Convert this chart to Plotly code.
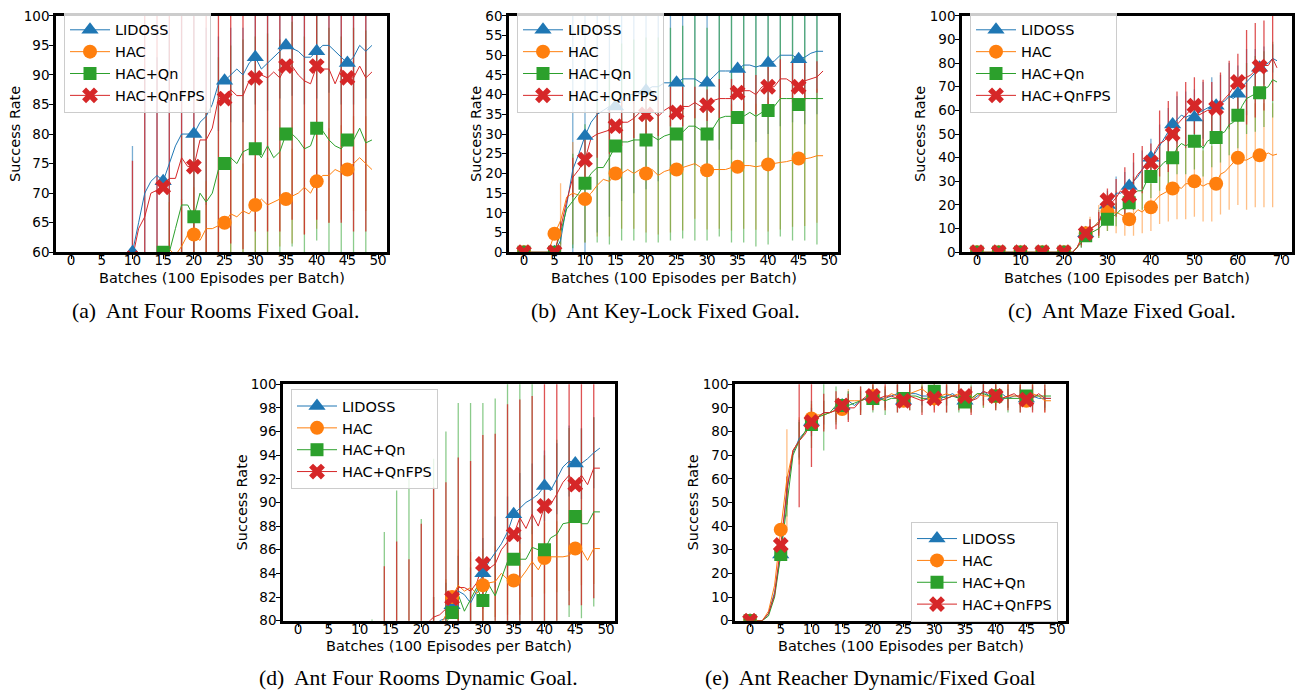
import plotly.graph_objects as go

# ---------------- data ----------------
SERIES = ["LIDOSS", "HAC", "HAC+Qn", "HAC+QnFPS"]
COLORS = ["#1f77b4", "#ff7f0e", "#2ca02c", "#d62728"]
ERR_COLORS = ["rgba(31,119,180,0.6)", "rgba(255,127,14,0.5)",
              "rgba(44,160,44,0.55)", "rgba(214,39,40,0.8)"]
SYMBOLS = ["triangle-up", "circle", "square", "x"]
MSIZES = [15, 14, 13, 14]

BATCHES_50 = list(range(50))
BATCHES_70 = list(range(70))

X_TICKS_50 = [0, 5, 10, 15, 20, 25, 30, 35, 40, 45, 50]
X_TICKS_70 = [0, 10, 20, 30, 40, 50, 60, 70]
Y_TICKS_A = [60, 65, 70, 75, 80, 85, 90, 95, 100]
Y_TICKS_B = [0, 5, 10, 15, 20, 25, 30, 35, 40, 45, 50, 55, 60]
Y_TICKS_C = [0, 10, 20, 30, 40, 50, 60, 70, 80, 90, 100]
Y_TICKS_D = [80, 82, 84, 86, 88, 90, 92, 94, 96, 98, 100]
Y_TICKS_E = [0, 10, 20, 30, 40, 50, 60, 70, 80, 90, 100]

# (a) Ant Four Rooms Fixed Goal
A_LIDOSS = [0, 0, 0, 0, 0, 0, 5, 15, 30, 45,
            60, 65, 70, 72, 73, 72, 75, 78, 80, 80,
            80, 82, 83, 85, 88.5, 89, 90, 91, 90, 92,
            93, 91, 92, 93, 94, 95, 94.5, 94, 93, 93,
            94, 95, 95, 94, 93, 92, 93, 95, 94, 95]
A_HAC = [0, 0, 0, 0, 0, 0, 2, 8, 15, 22,
         30, 36, 42, 48, 52, 56, 60.5, 59.5, 61, 63,
         63, 62, 64, 64, 64.5, 65, 66.5, 66, 67, 66.5,
         68, 69, 68, 68.5, 69, 69, 69.5, 70, 71, 70,
         72, 73, 73, 74, 73.5, 74, 75, 76, 75, 74]
A_QN = [0, 0, 0, 0, 0, 0, 3, 10, 18, 27,
        35, 42, 48, 53, 57, 60, 60, 64, 68, 68,
        66, 70, 68.5, 70, 74, 75, 76, 75, 77, 77.5,
        77.5, 76, 78, 76, 77, 80, 80, 79, 77.5, 78,
        81, 80.5, 79, 78, 77.5, 79, 79, 81, 78.5, 79]
A_QNFPS = [0, 0, 0, 0, 0, 0, 5, 15, 30, 45,
           59, 64, 66, 70, 70.5, 71, 72.5, 72.5, 76, 74.5,
           74.5, 79, 79, 81, 86, 86, 87.5, 86.5, 86.5, 89,
           89.5, 90, 89.5, 90.5, 89.5, 91.5, 91.5, 90, 89, 88.5,
           91.5, 91, 91, 88.5, 91, 89.5, 89.5, 91.5, 89.5, 90.5]
# error half-widths at every second batch (0, 2, 4, ..., 48)
A_ERR_LIDOSS = [0, 0, 0, 0, 0, 18, 20, 20, 22, 22, 20, 15, 8, 8, 8, 8, 8, 8, 8, 8, 8, 8, 8, 8, 8]
A_ERR_HAC = [0, 0, 0, 0, 0, 0, 0, 0, 8, 8, 8, 8, 8, 8, 8, 8, 8, 8, 8, 8, 8, 8, 8, 8, 8]
A_ERR_QN = [0, 0, 0, 0, 0, 0, 0, 0, 10, 12, 15, 16, 19, 19, 19, 19, 19, 19, 19, 19, 19, 19, 19, 19, 19]
A_ERR_QNFPS = [0, 0, 0, 0, 0, 16.5, 40, 35, 32, 30, 28, 27, 26, 26, 26, 26, 26, 26, 26, 26, 26, 26, 26, 26, 26]

# (b) Ant Key-Lock Fixed Goal
B_LIDOSS = [0, 0, 0, 0, 0, 0, 3, 12, 21, 25,
            29.5, 33, 35, 36, 37, 37, 39, 40, 40, 41,
            41, 42, 42, 43, 43, 43, 44, 44, 44, 43,
            43, 44.5, 46, 46, 46, 46.5, 47.5, 47.5, 47, 47.5,
            48, 48.5, 50, 50, 50, 49, 49.5, 50.5, 51, 51]
B_HAC = [0, 0, 0, 0, 0, 4.7, 8, 14, 15, 14.5,
         13.5, 15, 17, 18.5, 18, 20, 20, 21, 20, 21,
         20, 21, 19.5, 20.5, 21, 21, 21.5, 22, 22.5, 21.5,
         20.8, 21, 21, 21, 21.5, 21.7, 22, 22, 21.7, 22,
         22.3, 22.5, 22.8, 23, 23.5, 23.8, 23.7, 24, 24.5, 24.5]
B_QN = [0, 0, 0, 0, 0, 0, 5, 11, 13, 15,
        17.5, 20, 21.5, 21.5, 24, 27, 28, 28, 28.5, 28.5,
        28.5, 29.5, 28.5, 29.5, 30, 30, 30.5, 32, 32, 31,
        30, 31.5, 34, 34.5, 34.5, 34.2, 34.5, 35.5, 34.5, 35.5,
        36, 37, 39, 39, 39, 37.5, 39, 39, 39, 39]
B_QNFPS = [0, 0, 0, 0, 0, 0, 6, 13, 19, 21,
           23.5, 29, 30, 30.5, 31, 32, 33, 33, 34, 35.5,
           35, 36, 34.5, 36, 37, 35.5, 37, 37, 38, 37,
           37.3, 38.5, 39, 39, 39, 40.5, 41, 41, 40, 42,
           42, 42, 44, 44, 43, 42, 43.5, 44, 44.5, 46]
B_ERR_LIDOSS = [0, 0, 0, 3, 40, 31, 30, 28, 26, 25, 25, 24, 23, 23, 22, 22, 20, 20, 19, 19, 18, 18, 17, 17, 16]
B_ERR_HAC = [0, 0, 0, 9.5, 13, 11, 13, 14, 14, 14, 15, 15, 16, 16, 14, 15, 15, 16, 16, 16, 17, 17, 17, 17, 17]
B_ERR_QN = [0, 0, 0, 3, 12, 15, 19, 22, 25, 25.5, 26, 26, 27, 27, 29, 27, 30, 32, 32, 33, 34, 35, 36, 36, 37]
B_ERR_QNFPS = [0, 0, 0, 2, 5, 6, 6, 6, 6, 5, 5, 5, 5, 5, 4, 4, 5, 5, 5, 5, 5, 5, 5, 5, 4]

# (c) Ant Maze Fixed Goal
C_LIDOSS = [0, 0, 0, 0, 0, 0, 0, 0, 0, 0,
            0, 0, 0, 0, 0, 0, 0, 0, 0, 0,
            0, 0, 0, 2, 5, 8, 10, 11, 13, 17,
            20, 22, 25, 25, 26, 28, 30, 32, 35, 38,
            40, 42, 45, 48, 51, 54, 56, 58, 57, 58,
            57, 59, 60, 61, 62, 62, 63, 64, 66, 65,
            67, 70, 72, 74, 76, 78, 79, 80, 82, 81]
C_HAC = [0, 0, 0, 0, 0, 0, 0, 0, 0, 0,
         0, 0, 0, 0, 0, 0, 0, 0, 0, 0,
         0, 0, 0, 2, 5, 8, 10, 11, 13, 15,
         17, 16, 17, 16, 15, 14, 16, 18, 17, 19,
         19, 22, 24, 25, 26, 27, 28, 27, 29, 29,
         30, 29, 28, 29, 29, 29, 33, 34, 36, 38,
         40, 39, 39, 40, 41, 41, 41, 42, 41, 41.5]
C_QN = [0, 0, 0, 0, 0, 0, 0, 0, 0, 0,
        0, 0, 0, 0, 0, 0, 0, 0, 0, 0,
        0, 0, 0, 2, 4, 7, 8, 9, 10, 12,
        14, 15, 16, 18, 19, 21, 25, 26, 26, 30,
        32, 34, 36, 38, 39, 40, 44, 46, 45, 46,
        47, 46, 44, 47, 48, 48.5, 50, 51, 54, 55,
        58, 62, 65, 66, 67, 67.5, 69, 70, 73, 72]
C_QNFPS = [0, 0, 0, 0, 0, 0, 0, 0, 0, 0,
           0, 0, 0, 0, 0, 0, 0, 0, 0, 0,
           0, 0, 0, 2, 6, 8, 10, 11, 12, 18,
           22, 21, 23, 26, 24, 24, 30, 33, 35, 37,
           38, 43, 46, 47, 49, 50, 54, 56, 58, 60,
           62, 58, 59, 60, 60, 61, 63, 65, 67, 70,
           72, 73, 74, 75, 77, 78.5, 79, 79, 82, 78]
C_ERR_LIDOSS = [0, 0, 0, 0, 0, 0, 0, 0, 0, 0, 0, 0,
                3, 4, 5, 6, 7, 8, 8, 8, 8, 9, 10, 10, 11, 12, 12, 12, 12, 14, 12, 14, 10, 8, 6]
C_ERR_HAC = [0, 0, 0, 0, 0, 0, 0, 0, 0, 0, 0, 0,
             3, 5, 7, 8, 9, 8, 9, 9, 10, 12, 13, 14, 15, 15, 15, 16, 17, 18, 20, 21, 22, 22, 22]
C_ERR_QN = [0, 0, 0, 0, 0, 0, 0, 0, 0, 0, 0, 0,
            2, 3, 4, 5, 5, 6, 7, 8, 9, 10, 10, 11, 12, 12, 12, 12, 12, 13, 14, 15, 16, 16, 16]
C_ERR_QNFPS = [0, 0, 0, 0, 0, 0, 0, 0, 0, 0, 0, 0,
               3, 4, 5, 5, 8, 12, 12, 10, 8, 14, 15, 14, 14, 12, 14, 12, 13, 14, 12, 20, 20, 19, 18]

# (d) Ant Four Rooms Dynamic Goal
D_LIDOSS = [0, 0, 0, 0, 0, 1, 3, 8, 15, 24,
            33, 42, 50, 57, 62, 66, 70, 72, 74, 76,
            77, 78, 79, 80, 80.2, 81.3, 82.5, 82.2, 81.5, 82.5,
            84, 85, 85.8, 86.5, 87.5, 89, 89.5, 90, 90.3, 90.7,
            91.4, 91, 92, 93, 93.5, 93.3, 93.3, 93.7, 94.2, 94.6]
D_HAC = [0, 0, 0, 0, 0, 1, 3, 8, 15, 24,
         33, 42, 50, 57, 62, 66, 70, 72, 74, 76,
         77, 78, 79, 79.5, 80.5, 82, 83, 82.5, 82.8, 82.3,
         83, 83.2, 83.3, 84, 83.5, 83.4, 83.5, 84.2, 85, 84.3,
         85.3, 85.4, 85.4, 85.4, 85.5, 86.1, 86, 85.1, 86.1, 86.1]
D_QN = [0, 0, 0, 0, 0, 1, 3, 8, 15, 24,
        33, 42, 50, 57, 62, 66, 70, 72, 74, 76,
        77, 78, 78, 79, 79.8, 80.7, 82.2, 80.8, 81.8, 82.8,
        81.7, 83, 82.1, 83.5, 85, 85.2, 85.2, 85.2, 86.2, 86,
        86, 87, 87.3, 88.2, 88.3, 88.8, 88.2, 88.2, 89.2, 89.2]
D_QNFPS = [0, 0, 0, 0, 0, 1, 3, 8, 15, 24,
           33, 42, 50, 57, 62, 66, 70, 72, 74, 76,
           77, 79.8, 80.3, 80.5, 81, 81.9, 82.8, 82.8, 82.5, 83.2,
           84.8, 84.4, 84.8, 86, 86.7, 87.3, 88.7, 87.8, 89, 88,
           89.7, 89.8, 90.7, 91.7, 92.3, 91.5, 92.3, 91.5, 92.9, 92.9]
D_ERR_LIDOSS = [0, 0, 0, 0, 0, 0, 0, 0, 0, 0, 0, 3, 3, 3, 3, 3, 3, 3, 3, 3, 3, 3, 3, 3, 3]
D_ERR_HAC = [0, 0, 0, 0, 0, 0, 0, 0, 0, 0, 0, 3, 3, 3, 3, 3, 3, 3, 3, 3, 3, 3, 3, 3, 3]
D_ERR_QN = [0, 0, 0, 0, 0, 0, 30.1, 25.5, 21, 18.2, 11.6, 15.7, 16.2, 16.2, 16.6,
            16.7, 16.7, 16, 16, 16, 8, 8, 8, 8, 8]
D_ERR_QNFPS = [0, 0, 0, 0, 0, 0, 0, 22.6, 16.7, 11.2, 11.2, 11, 10.7, 11, 11,
               10.9, 11, 11.6, 10, 10, 11, 11, 11, 11, 11]

# (e) Ant Reacher Dynamic/Fixed Goal
E_LIDOSS = [0, 0, 0, 3, 12, 28, 55, 71, 77, 80,
            84, 86, 88, 88, 89, 91, 93, 91, 93, 94,
            95, 94, 94, 95, 96, 93, 96, 96, 95, 95,
            95, 94, 95, 96, 94, 93, 93, 95, 97, 95,
            95, 96, 94, 95, 95, 94, 95, 94, 94, 94]
E_HAC = [0, 0, 0, 4, 15, 38.5, 60, 72, 76, 80,
         85.5, 87, 87, 88, 89, 89.5, 93, 93, 93, 94,
         95, 93, 94, 96, 95, 93, 96, 97, 98, 96,
         94, 95, 96, 95, 96, 94, 93, 96, 95, 95,
         95, 94, 95, 95, 95, 93, 96, 95, 93, 93]
E_QN = [0, 0, 0, 2, 10, 28, 50, 70, 76, 80,
        83, 86, 87, 88, 91, 91, 91, 92, 93, 94,
        94, 94, 93, 94, 94, 94, 95, 95, 94, 94,
        97, 95, 94, 95, 94, 92.5, 94, 96, 96, 95,
        95, 94, 94, 94, 94, 95, 95, 95, 95, 95]
E_QNFPS = [0, 0, 0, 3, 11, 32, 55, 72, 76, 79,
           84, 86, 88, 88, 89, 91, 90, 90, 93, 95,
           95, 94, 95, 95, 94, 93, 95, 94, 93, 94,
           94, 93, 94, 95, 95, 95, 93, 94, 97, 96,
           95, 94, 95, 96, 94, 93.5, 94, 96, 94, 94]
E_ERR_LIDOSS = [0, 0, 0, 5, 8, 6, 5, 4, 4, 4, 4, 4, 4, 4, 4, 4, 4, 4, 4, 4, 4, 4, 4, 4, 4]
E_ERR_HAC = [0, 0, 0, 21, 10, 6, 6, 5, 5, 5, 5, 5, 5, 5, 5, 5, 5, 5, 5, 5, 5, 5, 5, 5, 5]
E_ERR_QN = [0, 0, 0, 6, 8, 10, 15, 8, 6, 6, 6, 6, 6, 6, 6, 6, 6, 6, 6, 6, 6, 6, 6, 6, 6]
E_ERR_QNFPS = [0, 0, 0, 6, 28, 19, 8, 8, 6, 6, 6, 6, 6, 6, 6, 6, 6, 6, 6, 6, 6, 6, 6, 6, 6]

CAPTIONS = ["(a)\u00a0 Ant Four Rooms Fixed Goal.",
            "(b)\u00a0 Ant Key-Lock Fixed Goal.",
            "(c)\u00a0 Ant Maze Fixed Goal.",
            "(d)\u00a0 Ant Four Rooms Dynamic Goal.",
            "(e)\u00a0 Ant Reacher Dynamic/Fixed Goal"]
X_TITLE = "Batches (100 Episodes per Batch)"
Y_TITLE = "Success Rate"

# ---------------- layout helpers ----------------
W, H = 1303, 700


def fx(p):
    return p / W


def fy(p):
    return 1 - p / H


PANELS = [
    dict(x=BATCHES_50, ys=[A_LIDOSS, A_HAC, A_QN, A_QNFPS],
         errs=[A_ERR_LIDOSS, A_ERR_HAC, A_ERR_QN, A_ERR_QNFPS],
         xr=[-2.45, 51.45], xt=X_TICKS_50, yr=[60, 100], yt=Y_TICKS_A,
         box=(56, 387, 8, 250), ytoff=41,
         leg=dict(x=fx(64), y=fy(5), xanchor="left", yanchor="top"),
         cap=(216, 310)),
    dict(x=BATCHES_50, ys=[B_LIDOSS, B_HAC, B_QN, B_QNFPS],
         errs=[B_ERR_LIDOSS, B_ERR_HAC, B_ERR_QN, B_ERR_QNFPS],
         xr=[-2.45, 51.45], xt=X_TICKS_50, yr=[0, 60], yt=Y_TICKS_B,
         box=(509, 838, 8, 250), ytoff=33,
         leg=dict(x=fx(517), y=fy(5), xanchor="left", yanchor="top"),
         cap=(665, 310)),
    dict(x=BATCHES_70, ys=[C_LIDOSS, C_HAC, C_QN, C_QNFPS],
         errs=[C_ERR_LIDOSS, C_ERR_HAC, C_ERR_QN, C_ERR_QNFPS],
         xr=[-3.45, 72.45], xt=X_TICKS_70, yr=[0, 100], yt=Y_TICKS_C,
         box=(962, 1292, 8, 250), ytoff=42,
         leg=dict(x=fx(970), y=fy(5), xanchor="left", yanchor="top"),
         cap=(1122, 310)),
    dict(x=BATCHES_50, ys=[D_LIDOSS, D_HAC, D_QN, D_QNFPS],
         errs=[D_ERR_LIDOSS, D_ERR_HAC, D_ERR_QN, D_ERR_QNFPS],
         xr=[-2.45, 51.45], xt=X_TICKS_50, yr=[80, 100], yt=Y_TICKS_D,
         box=(283, 615, 385, 627), ytoff=41,
         leg=dict(x=fx(291), y=fy(390), xanchor="left", yanchor="top"),
         cap=(418, 686)),
    dict(x=BATCHES_50, ys=[E_LIDOSS, E_HAC, E_QN, E_QNFPS],
         errs=[E_ERR_LIDOSS, E_ERR_HAC, E_ERR_QN, E_ERR_QNFPS],
         xr=[-2.45, 51.45], xt=X_TICKS_50, yr=[0, 100], yt=Y_TICKS_E,
         box=(735, 1066, 385, 627), ytoff=42,
         leg=dict(x=fx(1058), y=fy(628), xanchor="right", yanchor="bottom"),
         cap=(870, 686)),
]

TICKFONT = dict(family="DejaVu Sans", size=13.5, color="black")
TITLEFONT = dict(family="DejaVu Sans", size=14.5, color="black")
CAPFONT = dict(family="Liberation Serif", size=21.7, color="black")

fig = go.Figure()
layout = dict(width=W, height=H, margin=dict(l=0, r=0, t=0, b=0),
              plot_bgcolor="white", paper_bgcolor="white", annotations=[])

for i, p in enumerate(PANELS):
    s = "" if i == 0 else str(i + 1)
    xa, ya = "x" + s, "y" + s
    legname = "legend" if i == 0 else "legend%d" % (i + 1)
    xs = p["x"]
    x_even = xs[::2]
    # error bars
    for j in range(4):
        fig.add_trace(go.Scatter(
            x=x_even, y=p["ys"][j][::2], mode="markers",
            marker=dict(size=1, color="rgba(0,0,0,0)"),
            error_y=dict(type="data", array=p["errs"][j], symmetric=True,
                         color=ERR_COLORS[j], thickness=1.3, width=0, visible=True),
            showlegend=False, hoverinfo="skip", xaxis=xa, yaxis=ya))
    # lines
    for j in range(4):
        fig.add_trace(go.Scatter(
            x=xs, y=p["ys"][j], mode="lines",
            line=dict(color=COLORS[j], width=1),
            showlegend=False, xaxis=xa, yaxis=ya))
    # markers every 5 batches
    for j in range(4):
        mx = [b for b in xs if b % 5 == 0]
        my = [p["ys"][j][b] for b in mx]
        fig.add_trace(go.Scatter(
            x=mx, y=my, mode="markers",
            marker=dict(symbol=SYMBOLS[j], size=MSIZES[j], color=COLORS[j]),
            showlegend=False, xaxis=xa, yaxis=ya))
    # legend entries
    for j in range(4):
        fig.add_trace(go.Scatter(
            x=[None], y=[None], mode="lines+markers", name=SERIES[j],
            line=dict(color=COLORS[j], width=1),
            marker=dict(symbol=SYMBOLS[j], size=MSIZES[j], color=COLORS[j]),
            legend=legname, showlegend=True, xaxis=xa, yaxis=ya))

    l, r, t, b = p["box"]
    axcommon = dict(showline=True, linecolor="black", linewidth=2.5, mirror=True,
                    ticks="outside", ticklen=4, tickwidth=1, tickcolor="black",
                    showgrid=False, zeroline=False, tickfont=TICKFONT)
    layout["xaxis" + s] = dict(domain=[fx(l), fx(r)], anchor=ya, range=p["xr"],
                               tickmode="array", tickvals=p["xt"],
                               ticklabelstandoff=-10, **axcommon)
    layout["yaxis" + s] = dict(domain=[fy(b), fy(t)], anchor=xa, range=p["yr"],
                               tickmode="array", tickvals=p["yt"],
                               ticklabelstandoff=-3, **axcommon)
    leg = dict(bgcolor="rgba(255,255,255,0.8)", bordercolor="#cccccc", borderwidth=1,
               font=dict(family="DejaVu Sans", size=14.5, color="black"),
               itemwidth=40, tracegroupgap=0, xref="paper", yref="paper")
    leg.update(p["leg"])
    layout[legname] = leg

    layout["annotations"].append(dict(
        text=X_TITLE, x=fx((l + r) / 2), y=fy(b + 26), xref="paper", yref="paper",
        xanchor="center", yanchor="middle", showarrow=False, font=TITLEFONT))
    layout["annotations"].append(dict(
        text=Y_TITLE, x=fx(l - p["ytoff"]), y=fy((t + b) / 2), xref="paper", yref="paper",
        xanchor="center", yanchor="middle", textangle=-90, showarrow=False, font=TITLEFONT))
    cx, cy = p["cap"]
    layout["annotations"].append(dict(
        text=CAPTIONS[i], x=fx(cx), y=fy(cy), xref="paper", yref="paper",
        xanchor="center", yanchor="middle", showarrow=False, font=CAPFONT))

fig.update_layout(**layout)
fig.write_html("out.html", config={"displayModeBar": False},
               post_script="document.body.style.margin='0';")
